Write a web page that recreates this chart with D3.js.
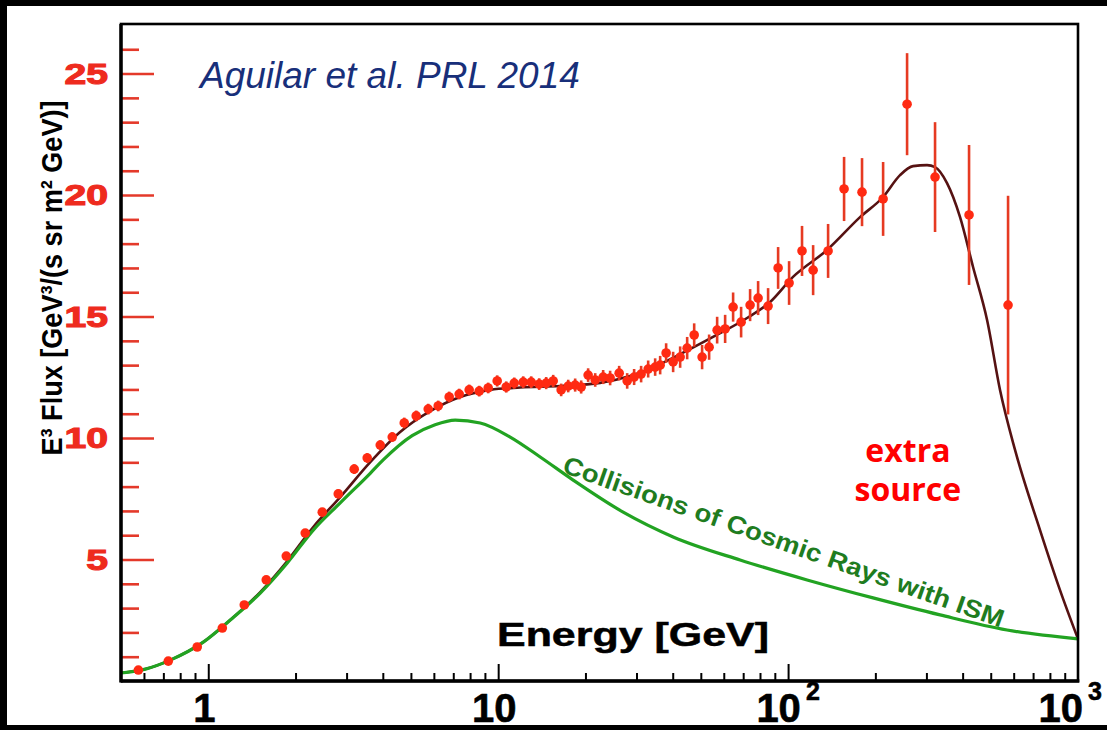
<!DOCTYPE html>
<html><head><meta charset="utf-8">
<script src="https://cdn.jsdelivr.net/npm/d3@7/dist/d3.min.js"></script>
<style>body{margin:0;background:#fff;overflow:hidden}</style>
</head><body>
<svg id="chart" width="1107" height="730"></svg>
<script>
// ---------- data ----------
const energy = [0.574,0.728,0.916,1.118,1.331,1.585,1.858,2.160,2.473,2.808,
  3.187,3.534,3.919,4.311,4.742,5.215,5.736,6.211,6.776,7.337,
  7.943,8.600,9.237,9.921,10.66,11.36,12.20,13.00,13.85,14.64,
  15.48,16.49,17.44,18.43,19.33,20.43,21.61,23.02,24.33,26.14,
  27.86,29.44,31.12,32.91,34.79,36.20,37.96,40.13,42.43,44.86,
  47.43,50.51,53.41,56.92,60.65,64.62,68.86,73.95,78.81,85.31,
  92.38,100.8,111.7,122.0,137.4,156.0,179.9,212.7,257.3,321.3,420.9,573.8];
const flux = [0.45,0.82,1.40,2.18,3.13,4.16,5.14,6.09,6.95,7.70,
  8.72,9.18,9.71,10.04,10.62,10.91,11.19,11.32,11.69,11.81,
  11.98,11.93,12.06,12.35,12.10,12.26,12.30,12.30,12.22,12.26,
  12.35,11.98,12.14,12.18,12.10,12.59,12.39,12.51,12.47,12.67,
  12.35,12.51,12.63,12.84,12.92,13.00,13.50,13.13,13.33,13.70,
  14.24,13.33,13.74,14.44,14.49,15.39,14.77,15.47,15.76,15.43,
  17.00,16.38,17.70,16.91,17.70,20.25,20.12,19.84,23.74,20.74,19.18,15.47];
const fluxErr = [0.1,0.1,0.1,0.12,0.12,0.13,0.14,0.15,0.17,0.18,
  0.2,0.2,0.2,0.2,0.22,0.22,0.22,0.22,0.22,0.22,
  0.22,0.22,0.22,0.23,0.23,0.23,0.24,0.24,0.24,0.25,
  0.25,0.26,0.26,0.27,0.27,0.28,0.28,0.29,0.3,0.3,
  0.32,0.33,0.34,0.35,0.36,0.38,0.4,0.42,0.44,0.46,
  0.48,0.5,0.52,0.55,0.58,0.6,0.63,0.66,0.7,0.74,
  0.86,0.9,1.03,1.03,1.11,1.32,1.4,1.52,2.1,2.26,2.88,4.5];

// secondary production (collisions of cosmic rays with ISM)
const bgEnergy = [0.5,0.607,0.739,0.961,1.191,1.511,1.873,2.302,2.852,3.62,4.012,5.05,6.06,7.11,8.67,11.0,13.96,18.14,26.98,40.13,68.3,116.3,196.4,334.3,569,1000];
const bgFlux   = [0.33,0.49,0.86,1.60,2.51,3.62,4.86,6.21,7.33,8.55,9.1,10.1,10.55,10.74,10.62,10.04,9.22,8.27,6.95,5.93,4.98,4.16,3.42,2.72,2.10,1.73];

// total fit (with extra source)
const fitEnergy = [0.5,0.607,0.739,0.961,1.191,1.511,1.873,2.302,2.852,3.62,4.59,5.83,7.39,9.38,11.91,16.36,22.47,28.52,32.66,42.43,55.1,72.2,86.7,104.0,136.3,177.1,212.7,243.3,269.8,301.5,321.3,353.4,391.9,434.5,485.7,538.3,606.5,739.6,866.8,1000];
const fitFlux   = [0.33,0.49,0.86,1.60,2.51,3.66,4.94,6.34,7.57,9.01,10.25,11.11,11.69,11.98,12.08,12.14,12.27,12.55,12.8,13.45,14.16,14.94,15.6,16.63,17.74,19.09,19.92,20.82,21.19,21.23,21.15,20.49,19.09,17.04,14.86,11.98,9.51,6.21,3.74,1.73];

const yMajorTicks = [5,10,15,20,25];
const yMinorTicks = [1,2,3,4,6,7,8,9,11,12,13,14,16,17,18,19,21,22,23,24,26];
const xMajorTicks = [1,10,100];
const xMinorTicks = [0.6,0.7,0.8,0.9,2,3,4,5,6,7,8,9,20,30,40,50,60,70,80,90,200,300,400,500,600,700,800,900];
const xLabelValues = [1,10,100,1000];
const xLabelBase = ["1","10","10","10"];
const xLabelExp  = ["","","2","3"];

// ---------- layout ----------
const svg = d3.select("#chart");
const W = 1107, H = 730;
const L = 121, R = 1078, T = 24, B = 681;
const x = d3.scaleLog().domain([0.5,1000]).range([L,R]);
const y = d3.scaleLinear().domain([0,27.04]).range([B,T]);
const SANS = "'Liberation Sans',Arial,Helvetica,sans-serif";

// page border
svg.append("rect").attr("width",W).attr("height",H).attr("fill","#000");
svg.append("rect").attr("x",7).attr("y",6).attr("width",W-7).attr("height",H-11).attr("fill","#fff");

// y ticks (red, inward)
const gy1 = svg.append("g").attr("transform",`translate(${L},0)`)
  .call(d3.axisLeft(y).tickValues(yMinorTicks).tickSizeInner(-18).tickSizeOuter(0).tickFormat(""));
const gy2 = svg.append("g").attr("transform",`translate(${L},0)`)
  .call(d3.axisLeft(y).tickValues(yMajorTicks).tickSizeInner(-33).tickSizeOuter(0).tickFormat(""));
[gy1,gy2].forEach(g=>{g.select(".domain").remove();
  g.selectAll(".tick line").attr("stroke","#e4392a").attr("stroke-width",2.6);});

// y tick labels (red, heavy)
svg.append("g").selectAll("text").data(yMajorTicks).join("text")
  .attr("transform",d=>`translate(108,${y(d)}) scale(1.35,1)`)
  .attr("dy","0.36em").attr("text-anchor","end")
  .attr("font-family",SANS).attr("font-weight","bold")
  .attr("font-size",29).attr("fill","#ee2b1e")
  .attr("stroke","#ee2b1e").attr("stroke-width",1.1).text(d=>d);

// x ticks (black, inward)
const gx1 = svg.append("g").attr("transform",`translate(0,${B})`)
  .call(d3.axisBottom(x).tickValues(xMinorTicks).tickSizeInner(-8).tickSizeOuter(0).tickFormat(""));
const gx2 = svg.append("g").attr("transform",`translate(0,${B})`)
  .call(d3.axisBottom(x).tickValues(xMajorTicks).tickSizeInner(-17).tickSizeOuter(0).tickFormat(""));
[gx1,gx2].forEach(g=>{g.select(".domain").remove();
  g.selectAll(".tick line").attr("stroke","#000").attr("stroke-width",2);});

// x tick labels
const xl = svg.append("g").selectAll("text").data(xLabelValues).join("text")
  .attr("x",(d,i)=> i===3 ? 1102 : x(d) - (i<2 ? 4 : 0))
  .attr("y",722)
  .attr("text-anchor",(d,i)=> i===3 ? "end" : "middle")
  .attr("font-family",SANS).attr("font-weight","bold")
  .attr("font-size",40).attr("fill","#000")
  .attr("stroke","#000").attr("stroke-width",0.6);
xl.append("tspan").text((d,i)=>xLabelBase[i]);
xl.filter((d,i)=>xLabelExp[i]!=="").append("tspan")
  .attr("font-size",25).attr("dx",5).attr("dy",-22).text(d=>xLabelExp[xLabelValues.indexOf(d)]);

// curves (fit first, background on top as in the original)
const line = d3.line().x(d=>x(d[0])).y(d=>y(d[1])).curve(d3.curveMonotoneX);
svg.append("path").datum(fitEnergy.map((e,i)=>[e,fitFlux[i]]))
  .attr("d",line).attr("fill","none").attr("stroke","#561212").attr("stroke-width",2.6);
svg.append("path").datum(bgEnergy.map((e,i)=>[e,bgFlux[i]]))
  .attr("d",line).attr("fill","none").attr("stroke","#22a322").attr("stroke-width",3.2);

// data points with error bars
const pts = energy.map((e,i)=>({e, f:flux[i], s:fluxErr[i]}));
svg.append("g").selectAll("line").data(pts).join("line")
  .attr("x1",d=>x(d.e)).attr("x2",d=>x(d.e))
  .attr("y1",d=>y(d.f-d.s)).attr("y2",d=>y(d.f+d.s))
  .attr("stroke","#e63a22").attr("stroke-width",2.6);
svg.append("g").selectAll("circle").data(pts).join("circle")
  .attr("cx",d=>x(d.e)).attr("cy",d=>y(d.f)).attr("r",4.8).attr("fill","#ff2a12");

// frame
svg.append("rect").attr("x",L).attr("y",T).attr("width",R-L).attr("height",B-T)
  .attr("fill","none").attr("stroke","#000").attr("stroke-width",2.6);
svg.append("line").attr("x1",L).attr("x2",L).attr("y1",T).attr("y2",B+1.5).attr("stroke","#000").attr("stroke-width",3.4);
svg.append("line").attr("x1",L).attr("x2",R+1.3).attr("y1",B).attr("y2",B).attr("stroke","#000").attr("stroke-width",3.4);

// titles and annotations
svg.append("text").attr("x",200).attr("y",88)
  .attr("font-family",SANS).attr("font-style","italic")
  .attr("font-size",37).attr("fill","#182f7a").text("Aguilar et al. PRL 2014");

svg.append("text").attr("x",497).attr("y",646)
  .attr("textLength",272).attr("lengthAdjust","spacingAndGlyphs")
  .attr("font-family",SANS).attr("font-weight","bold")
  .attr("font-size",33).attr("fill","#000")
  .attr("stroke","#000").attr("stroke-width",0.5).text("Energy [GeV]");

svg.append("text").attr("transform","translate(62,278) rotate(-90)")
  .attr("text-anchor","middle").attr("textLength",355).attr("lengthAdjust","spacingAndGlyphs")
  .attr("font-family",SANS).attr("font-weight","bold")
  .attr("font-size",30).attr("fill","#000").text("E³ Flux [GeV³/(s sr m² GeV)]");

svg.append("text").attr("transform",`translate(${x(16.5)},${y(8.6)}) rotate(19.5)`)
  .attr("textLength",466).attr("lengthAdjust","spacingAndGlyphs")
  .attr("font-family",SANS).attr("font-weight","bold")
  .attr("font-size",25).attr("fill","#1f7c1f").text("Collisions of Cosmic Rays with ISM");

const ex = svg.append("g").attr("font-family","'Open Sans',sans-serif").attr("font-weight","bold")
  .attr("font-size",32).attr("fill","#ff0000").attr("text-anchor","middle");
ex.append("text").attr("x",x(259)).attr("y",y(9.0)).text("extra");
ex.append("text").attr("x",x(259)).attr("y",y(7.4)).text("source");
</script>
</body></html>
